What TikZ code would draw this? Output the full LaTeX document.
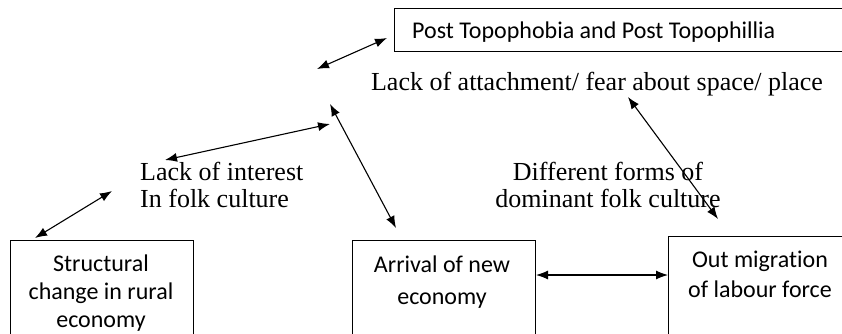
\documentclass[tikz,border=0pt]{standalone}
\usepackage{fontspec}
\setmainfont{Liberation Serif}
\newfontfamily\boxfont[Ligatures=NoCommon]{Carlito}
\usetikzlibrary{arrows.meta}
\tikzset{
  x=1pt, y=-1pt,
  boxnode/.style={draw, line width=1pt, rectangle, inner sep=0pt, anchor=north west},
  boxtext/.style={font=\boxfont\fontsize{24}{28}\selectfont, align=center, inner sep=0pt},
  sertext/.style={font=\fontsize{26}{27}\selectfont, inner sep=0pt},
  link/.style={line width=1.1pt, {Latex[length=12pt,width=9pt]}-{Latex[length=12pt,width=9pt]}}
}
\begin{document}
\begin{tikzpicture}
\useasboundingbox (0,0) rectangle (842,333);
\clip (0,0) rectangle (842,333);
% boxes
\node[boxnode, minimum width=460pt, minimum height=43pt] (post) at (394,8) {};
\node[font=\boxfont\fontsize{24}{28}\selectfont, anchor=west, inner sep=0pt] (posttxt) at (412,32) {Post Topophobia and Post Topophillia};
\node[boxnode, minimum width=183pt, minimum height=110pt] (sc) at (10,240) {};
\node[boxtext] (sctxt) at (101,293) {Structural\\change in rural\\economy};
\node[boxtext, font=\boxfont\fontsize{24}{32}\selectfont] (artxt) at (442,282) {Arrival of new\\economy};
\node[boxnode, minimum width=183pt, minimum height=110pt] (ar) at (352,240) {};
\node[boxnode, minimum width=190pt, minimum height=110pt] (om) at (668,236) {};
\node[boxtext, font=\boxfont\fontsize{24}{30}\selectfont] (omtxt) at (760,274) {Out migration\\of labour force};
% free texts
\node[sertext] (att) at (597,84) {Lack of attachment/ fear about space/ place};
\node[sertext, align=left, anchor=west] (li) at (140,185) {Lack of interest\\In folk culture};
\node[sertext, align=center] (df) at (608,185) {Different forms of\\dominant folk culture};
% arrow ends
\coordinate (a1) at (317,69); \coordinate (b1) at (387,38);
\coordinate (a2) at (165,160); \coordinate (b2) at (330,124);
\coordinate (a3) at (330,104); \coordinate (b3) at (396,228);
\coordinate (a4) at (628,97); \coordinate (b4) at (718,219);
\coordinate (a5) at (35,238); \coordinate (b5) at (112,191);
\draw[link] (a1) -- (b1);
\draw[link] (a2) -- (b2);
\draw[link] (a3) -- (b3);
\draw[link] (a4) -- (b4);
\draw[link] (a5) -- (b5);
\draw[link] (ar.east |- 0,275) -- (om.west |- 0,275);
\end{tikzpicture}
\end{document}
